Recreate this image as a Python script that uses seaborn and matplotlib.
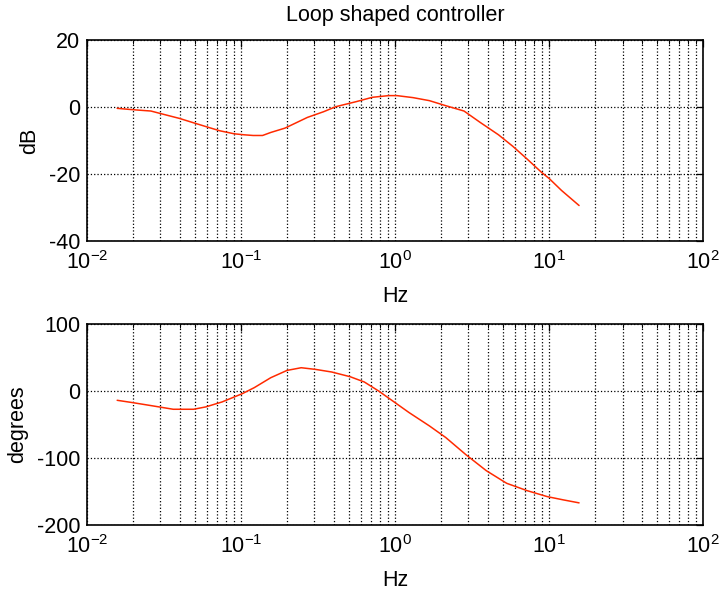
import numpy as np
import pandas as pd
import matplotlib
matplotlib.use("Agg")
import matplotlib.pyplot as plt
import seaborn as sns
from matplotlib.ticker import LogLocator

# Magnitude data (Hz, dB)
mag_freq = [0.0157, 0.0198, 0.0260, 0.0303, 0.0398, 0.0507, 0.0627, 0.0729, 0.0904,
            0.105, 0.120, 0.138, 0.156, 0.193, 0.270, 0.344, 0.413, 0.560, 0.713, 0.910,
            1.028, 1.309, 1.671, 2.133, 2.805, 3.573, 4.699, 5.808, 7.194, 8.89,
            10.05, 12.05, 15.67]
mag_db = [-0.4, -0.8, -1.2, -2.0, -3.4, -4.9, -6.2, -7.1, -8.0,
          -8.3, -8.5, -8.5, -7.6, -6.3, -3.1, -1.4, 0.1, 1.6, 2.9, 3.4,
          3.4, 2.8, 1.9, 0.4, -1.2, -4.6, -8.3, -11.7, -15.5, -19.4,
          -21.4, -24.9, -29.4]

# Phase data (Hz, degrees)
ph_freq = [0.0157, 0.0198, 0.0268, 0.0363, 0.0492, 0.0590, 0.0753, 0.102, 0.122,
           0.156, 0.199, 0.246, 0.305, 0.388, 0.511, 0.632, 0.782, 0.966, 1.233,
           1.671, 2.133, 2.891, 3.917, 5.309, 7.194, 9.75, 12.42, 15.67]
ph_deg = [-13.9, -17.4, -22.3, -27.3, -27.3, -23.8, -16.4, -4.0, 5.0,
          19.8, 30.7, 34.7, 32.2, 28.3, 21.3, 13.4, 0.0, -14.9, -32.2,
          -52.1, -69.4, -95.2, -119.0, -137.8, -148.7, -157.7, -162.6, -167.0]

sns.set_style("white")
plt.rcParams['font.family'] = ['Liberation Sans', 'DejaVu Sans']
plt.rcParams['mathtext.fontset'] = 'custom'
plt.rcParams['mathtext.rm'] = 'Liberation Sans'
plt.rcParams['mathtext.it'] = 'Liberation Sans'
plt.rcParams['axes.unicode_minus'] = False

fig = plt.figure(figsize=(7.19, 5.90), dpi=100)
ax1 = fig.add_axes([0.1210, 0.5915, 0.8568, 0.3407])
ax2 = fig.add_axes([0.1210, 0.1102, 0.8568, 0.3407])

df_mag = pd.DataFrame({"Hz": mag_freq, "dB": mag_db})
df_ph = pd.DataFrame({"Hz": ph_freq, "degrees": ph_deg})

line_color = "#ff2a00"
sns.lineplot(data=df_mag, x="Hz", y="dB", ax=ax1, color=line_color, linewidth=1.1)
sns.lineplot(data=df_ph, x="Hz", y="degrees", ax=ax2, color=line_color, linewidth=1.1)

fs = 15.5
for ax, ylim, yticks, ylabel in [(ax1, (-40, 20), [-40, -20, 0, 20], "dB"),
                                  (ax2, (-200, 100), [-200, -100, 0, 100], "degrees")]:
    ax.set_xscale("log")
    ax.set_xlim(1e-2, 1e2)
    ax.set_ylim(*ylim)
    ax.set_yticks(yticks)
    ax.xaxis.set_major_locator(LogLocator(base=10, numticks=10))
    ax.xaxis.set_minor_locator(LogLocator(base=10, subs=np.arange(2, 10), numticks=100))
    ax.grid(True, which="major", axis="both", color="black", linestyle=":", linewidth=0.9)
    ax.grid(True, which="minor", axis="x", color="black", linestyle=":", linewidth=0.9)
    ax.tick_params(which="both", direction="in", top=True, right=True, labelsize=fs,
                   color="black", labelcolor="black")
    ax.tick_params(which="major", length=5, width=0.9)
    ax.tick_params(which="minor", length=3, width=0.7)
    ax.tick_params(axis="y", pad=5)
    ax.tick_params(axis="x", pad=7)
    for s in ax.spines.values():
        s.set_color("black")
        s.set_linewidth(1.2)
    ax.set_xlabel("Hz", fontsize=fs, labelpad=9, color="black")
    ax.set_ylabel(ylabel, fontsize=fs, labelpad=6, color="black")

ax1.set_title("Loop shaped controller", fontsize=fs, pad=14, color="black")

fig.savefig("out.png", dpi=100)
